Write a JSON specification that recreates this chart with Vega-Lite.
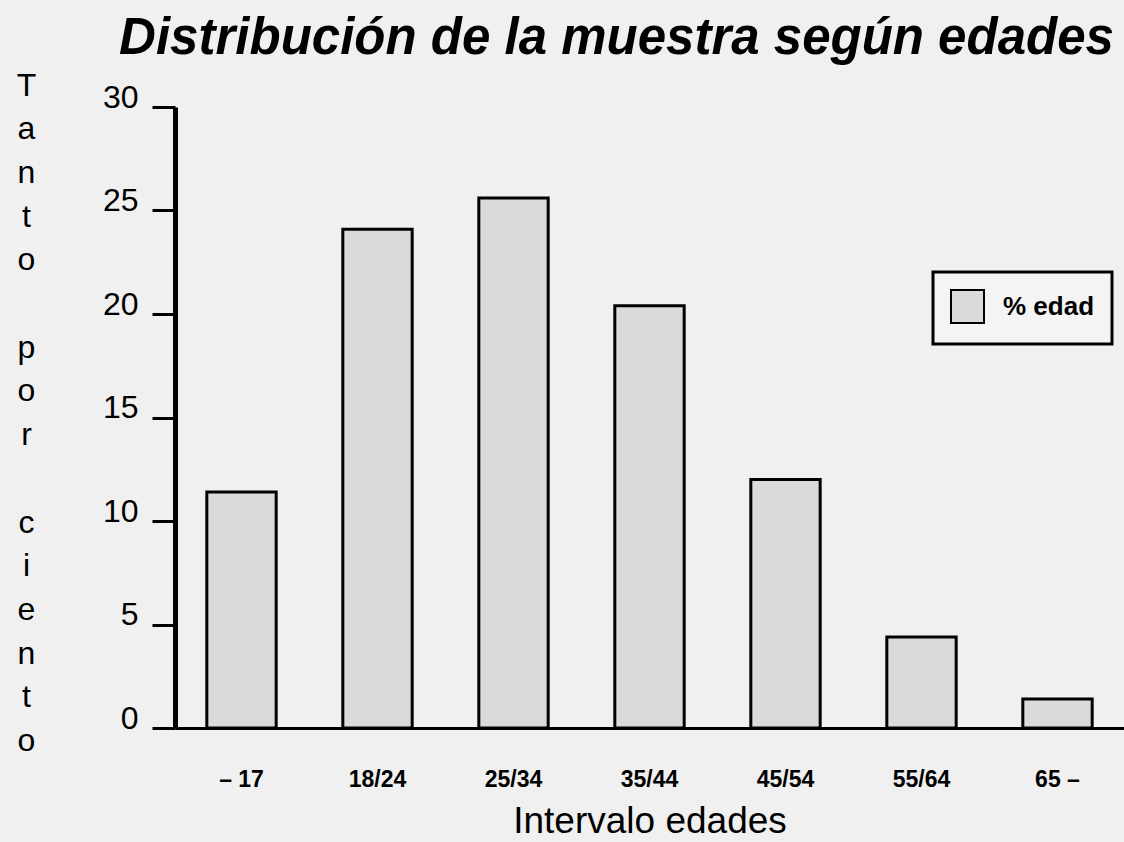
{
  "$schema": "https://vega.github.io/schema/vega-lite/v6.json",
  "width": 949,
  "height": 621,
  "autosize": {"type": "none"},
  "padding": {"left": 175, "top": 107, "right": 0, "bottom": 114},
  "background": "#f0f0f0",
  "title": {
    "text": "Distribución de la muestra según edades",
    "font": "Liberation Sans",
    "fontSize": 51,
    "fontWeight": "bold",
    "fontStyle": "italic",
    "color": "#000000",
    "anchor": "middle",
    "frame": "group",
    "dx": -33,
    "dy": 88,
    "baseline": "alphabetic",
    "offset": 52
  },
  "data": {
    "values": [
      {"edad": "– 17", "pct": 11.4, "serie": "% edad"},
      {"edad": "18/24", "pct": 24.1, "serie": "% edad"},
      {"edad": "25/34", "pct": 25.6, "serie": "% edad"},
      {"edad": "35/44", "pct": 20.4, "serie": "% edad"},
      {"edad": "45/54", "pct": 12.0, "serie": "% edad"},
      {"edad": "55/64", "pct": 4.4, "serie": "% edad"},
      {"edad": "65 –", "pct": 1.4, "serie": "% edad"}
    ]
  },
  "mark": {"type": "bar", "stroke": "#000000", "strokeWidth": 3},
  "encoding": {
    "x": {
      "field": "edad",
      "type": "nominal",
      "sort": null,
      "scale": {"paddingInner": 0.49, "paddingOuter": 0.234},
      "axis": {
        "title": "Intervalo edades",
        "titleFont": "Liberation Sans",
        "titleFontSize": 37,
        "titleFontWeight": "normal",
        "titleColor": "#000000",
        "titlePadding": 12,
        "labelAngle": 0,
        "labelFont": "Liberation Sans",
        "labelFontSize": 23,
        "labelFontWeight": "bold",
        "labelColor": "#000000",
        "labelPadding": 40,
        "ticks": false,
        "domainColor": "#000000",
        "domainWidth": 3
      }
    },
    "y": {
      "field": "pct",
      "type": "quantitative",
      "scale": {"domain": [0, 30], "nice": false},
      "axis": {
        "title": ["T", "a", "n", "t", "o", "\u200b", "p", "o", "r", "\u200b", "c", "i", "e", "n", "t", "o"],
        "titleAngle": 0,
        "titleAlign": "center",
        "titleBaseline": "alphabetic",
        "titleX": -149,
        "titleY": -12,
        "titleLineHeight": 43.7,
        "titleFont": "Liberation Sans",
        "titleFontSize": 32,
        "titleFontWeight": "normal",
        "titleColor": "#000000",
        "values": [0, 5, 10, 15, 20, 25, 30],
        "grid": false,
        "tickSize": 23,
        "tickWidth": 3,
        "tickColor": "#000000",
        "domainColor": "#000000",
        "domainWidth": 5,
        "labelFont": "Liberation Sans",
        "labelFontSize": 32,
        "labelColor": "#000000",
        "labelBaseline": "alphabetic",
        "labelPadding": 14
      }
    },
    "color": {
      "field": "serie",
      "type": "nominal",
      "scale": {"range": ["#dadada"]},
      "legend": {
        "orient": "none",
        "legendX": 758,
        "legendY": 165,
        "title": null,
        "strokeColor": "#000000",
        "fillColor": "#f4f4f4",
        "padding": 17,
        "symbolType": "square",
        "symbolSize": 1089,
        "symbolStrokeColor": "#000000",
        "symbolStrokeWidth": 2,
        "symbolOffset": 0,
        "labelOffset": 18,
        "labelFont": "Liberation Sans",
        "labelFontSize": 26,
        "labelFontWeight": "bold",
        "labelColor": "#000000",
        "encode": {"legend": {"update": {"strokeWidth": {"value": 3}}}}
      }
    }
  },
  "config": {"view": {"stroke": null}}
}
